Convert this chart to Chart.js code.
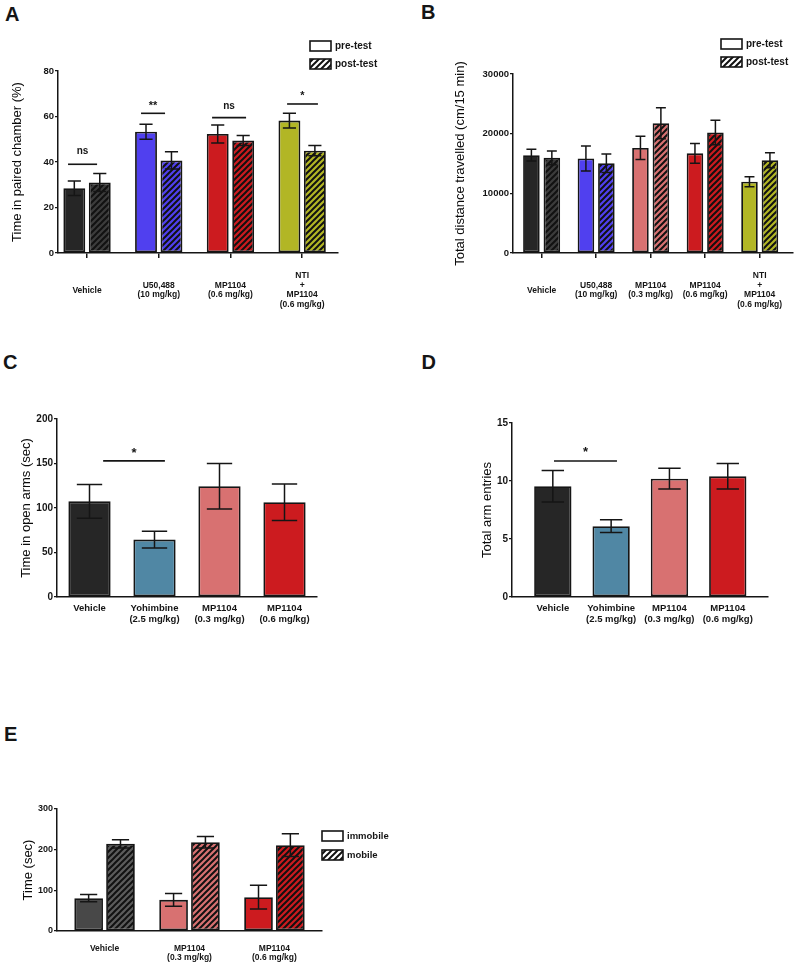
<!DOCTYPE html>
<html>
<head>
<meta charset="utf-8">
<script src="https://cdn.jsdelivr.net/npm/chart.js@4.4.1/dist/chart.umd.min.js"></script>
<style>
  body { margin: 0; background: #fff; width: 800px; height: 966px; position: relative; overflow: hidden;
         font-family: "Liberation Sans", Arial, sans-serif; color: #151515; }
  .panel { position: absolute; }
  .panel canvas { position: absolute; left: 0; top: 0; }
  .letter { position: absolute; font-weight: bold; font-size: 20px; line-height: 1; }
</style>
</head>
<body>
<div class="letter" style="left:5px;top:4px">A</div>
<div class="letter" style="left:421px;top:1.5px">B</div>
<div class="letter" style="left:3px;top:351.5px">C</div>
<div class="letter" style="left:421.5px;top:351.5px">D</div>
<div class="letter" style="left:4px;top:723.5px">E</div>

<div class="panel"><canvas id="chartA"></canvas></div>
<div class="panel"><canvas id="chartB"></canvas></div>
<div class="panel"><canvas id="chartC"></canvas></div>
<div class="panel"><canvas id="chartD"></canvas></div>
<div class="panel"><canvas id="chartE"></canvas></div>

<script>
// ---- data ----
// A: conditioned place preference
const groupsA = ['Vehicle', ['U50,488', '(10 mg/kg)'], ['MP1104', '(0.6 mg/kg)'], ['NTI', '+', 'MP1104', '(0.6 mg/kg)']];
const preA = [28.5, 53.3, 52.3, 58.2];
const preErrA = [3.2, 3.3, 4.0, 3.2];
const postA = [31.0, 40.7, 49.4, 45.0];
const postErrA = [4.0, 3.8, 2.2, 2.2];
const ticksA = [0, 20, 40, 60, 80];

// B: locomotion
const groupsB = ['Vehicle', ['U50,488', '(10 mg/kg)'], ['MP1104', '(0.3 mg/kg)'], ['MP1104', '(0.6 mg/kg)'], ['NTI', '+', 'MP1104', '(0.6 mg/kg)']];
const preB = [16400, 15850, 17600, 16700, 11950];
const preErrB = [1000, 2100, 1950, 1650, 850];
const postB = [15950, 15050, 21750, 20200, 15550];
const postErrB = [1150, 1550, 2600, 2050, 1250];
const ticksB = [0, 10000, 20000, 30000];

// C, D: elevated plus maze
const groupsCD = ['Vehicle', ['Yohimbine', '(2.5 mg/kg)'], ['MP1104', '(0.3 mg/kg)'], ['MP1104', '(0.6 mg/kg)']];
const openArmsC = [107.5, 64.5, 124.5, 106.5];
const openArmsErrC = [19, 9.5, 25.5, 20.5];
const ticksC = [0, 50, 100, 150, 200];
const entriesD = [9.55, 6.1, 10.2, 10.4];
const entriesErrD = [1.35, 0.55, 0.9, 1.1];
const ticksD = [0, 5, 10, 15];

// E: forced swim
const groupsE = ['Vehicle', ['MP1104', '(0.3 mg/kg)'], ['MP1104', '(0.6 mg/kg)']];
const immobileE = [80.8, 76.6, 83.2];
const immobileErrE = [9, 15.5, 29];
const mobileE = [214.3, 218.4, 211.0];
const mobileErrE = [10, 14, 28];
const ticksE = [0, 100, 200, 300];

// significance marks (x in group units, y in axis units)
const sigA = [
  { x1: -0.265, x2: 0.14, y: 39, ty: 44.5, text: 'ns', size: 10 },
  { x1: 0.753, x2: 1.088, y: 61.4, ty: 65.9, text: '**', size: 11 },
  { x1: 1.744, x2: 2.218, y: 59.5, ty: 64.2, text: 'ns', size: 10 },
  { x1: 2.79, x2: 3.22, y: 65.5, ty: 70.3, text: '*', size: 11 },
];
const sigC = [{ x1: 0.21, x2: 1.16, y: 152.9, ty: 165, text: '*', size: 13 }];
const sigD = [{ x1: 0.02, x2: 1.10, y: 11.72, ty: 12.67, text: '*', size: 13 }];

// ---- styles ----
const FAMILY = '"Liberation Sans", Arial, sans-serif';
const INK = '#151515';
const BLACK = '#262626', GREY = '#484848', BLUE = '#5040ef', RED = '#cc1b1f',
      PINK = '#d87171', OLIVE = '#b2b625', TEAL = '#5087a4';
const colorsA = [BLACK, BLUE, RED, OLIVE];
const colorsB = [BLACK, BLUE, PINK, RED, OLIVE];
const colorsCD = [BLACK, TEAL, PINK, RED];
const colorsE = [GREY, PINK, RED];

Chart.defaults.font.family = FAMILY;
Chart.defaults.color = INK;

const hatchBase = { [BLACK]: '#3c3c3c', [GREY]: '#5c5c5c' };

function hatch(fill, line = '#111') {
  const s = 6;
  const c = document.createElement('canvas');
  c.width = c.height = s;
  const g = c.getContext('2d');
  g.fillStyle = hatchBase[fill] || fill;
  g.fillRect(0, 0, s, s);
  g.strokeStyle = line;
  g.lineWidth = 2;
  g.beginPath();
  g.moveTo(0, s); g.lineTo(s, 0);
  g.moveTo(-s / 2, s / 2); g.lineTo(s / 2, -s / 2);
  g.moveTo(s / 2, s * 1.5); g.lineTo(s * 1.5, s / 2);
  g.stroke();
  return g.createPattern(c, 'repeat');
}

const xy = (vals) => vals.map((v, i) => ({ x: i, y: v }));

const errorBars = {
  id: 'errorBars',
  afterDatasetsDraw(chart) {
    const { ctx } = chart;
    const ys = chart.scales.y;
    ctx.save();
    ctx.strokeStyle = INK;
    ctx.lineWidth = 1.5;
    chart.data.datasets.forEach((ds, di) => {
      chart.getDatasetMeta(di).data.forEach((bar, i) => {
        const v = ds.data[i].y, e = ds.err[i];
        const t = ys.getPixelForValue(v + e), b = ys.getPixelForValue(v - e);
        const w = bar.width * 0.3;
        ctx.beginPath();
        ctx.moveTo(bar.x, t); ctx.lineTo(bar.x, b);
        ctx.moveTo(bar.x - w, t); ctx.lineTo(bar.x + w, t);
        ctx.moveTo(bar.x - w, b); ctx.lineTo(bar.x + w, b);
        ctx.stroke();
      });
    });
    ctx.restore();
  }
};

const sigMarks = {
  id: 'sigMarks',
  afterDatasetsDraw(chart, args, opts) {
    if (!opts.items) return;
    const { ctx } = chart;
    const xs = chart.scales.x, ys = chart.scales.y;
    ctx.save();
    opts.items.forEach(m => {
      const y = ys.getPixelForValue(m.y);
      ctx.strokeStyle = INK;
      ctx.lineWidth = 1.6;
      ctx.beginPath();
      ctx.moveTo(xs.getPixelForValue(m.x1), y);
      ctx.lineTo(xs.getPixelForValue(m.x2), y);
      ctx.stroke();
      ctx.font = `bold ${m.size}px ${FAMILY}`;
      ctx.textAlign = 'center';
      ctx.textBaseline = 'middle';
      ctx.fillStyle = INK;
      const k = m.text.includes('*') ? 0.22 : -0.09;
      ctx.fillText(m.text, xs.getPixelForValue((m.x1 + m.x2) / 2), ys.getPixelForValue(m.ty) + k * m.size);
    });
    ctx.restore();
  }
};

const boxLegend = {
  id: 'boxLegend',
  afterDraw(chart, args, opts) {
    if (opts.x === undefined) return;
    const { ctx } = chart;
    ctx.save();
    chart.data.datasets.forEach((ds, i) => {
      const y = opts.y + i * opts.gap;
      ctx.fillStyle = ds.legendFill;
      ctx.fillRect(opts.x, y, 21, 10);
      ctx.strokeStyle = INK;
      ctx.lineWidth = 1.6;
      ctx.strokeRect(opts.x, y, 21, 10);
      ctx.font = `bold ${opts.size}px ${FAMILY}`;
      ctx.textAlign = 'left';
      ctx.textBaseline = 'middle';
      ctx.fillStyle = INK;
      ctx.fillText(ds.label, opts.x + 25, y + 5.5);
    });
    ctx.restore();
  }
};

function drawPanel(id, box, area, spec) {
  const cv = document.getElementById(id);
  cv.width = box.w;
  cv.height = box.h;
  cv.parentElement.style.cssText = `left:${box.left}px;top:${box.top}px;width:${box.w}px;height:${box.h}px`;
  const yw = area.l - box.left;
  const xh = box.top + box.h - area.b;
  const groups = spec.groups;
  return new Chart(cv, {
    type: 'bar',
    data: { datasets: spec.datasets },
    options: {
      responsive: false,
      animation: false,
      layout: { padding: { left: 0, bottom: 0, top: area.t - box.top, right: box.left + box.w - area.r } },
      plugins: {
        legend: { display: false },
        tooltip: { enabled: false },
        sigMarks: { items: spec.sig || null },
        boxLegend: spec.legend || {}
      },
      scales: {
        x: {
          type: 'linear',
          min: spec.xMin,
          max: spec.xMax,
          offset: false,
          afterBuildTicks: s => { s.ticks = groups.map((g, i) => ({ value: i })); },
          afterFit: s => { s.height = xh; },
          ticks: {
            autoSkip: false, maxRotation: 0, minRotation: 0,
            callback: v => groups[v],
            font: { size: spec.xFont, weight: 'bold', lineHeight: spec.xLine },
            color: INK,
            padding: spec.xPad,
            crossAlign: spec.xAlign
          },
          grid: { offset: false, drawOnChartArea: false, drawTicks: spec.xTicks, tickLength: 5, color: INK, lineWidth: 1.5 },
          border: { color: INK, width: 1.5 }
        },
        y: {
          min: spec.yTicks[0],
          max: spec.yTicks[spec.yTicks.length - 1],
          afterBuildTicks: s => { s.ticks = spec.yTicks.map(v => ({ value: v })); },
          afterFit: s => { s.width = yw; },
          ticks: {
            callback: v => String(v),
            font: { size: spec.yFont, weight: 'bold' },
            color: INK,
            padding: 1
          },
          grid: { drawOnChartArea: false, tickLength: 3, color: INK, lineWidth: 1.2 },
          border: { color: INK, width: 1.5 },
          title: {
            display: true,
            text: spec.yTitle,
            font: { size: 13 },
            color: '#0a0a0a',
            padding: { top: spec.titlePad, bottom: 0 }
          }
        }
      }
    },
    plugins: [errorBars, sigMarks, boxLegend]
  });
}

const barStyle = (catPct, barPct) => ({
  borderColor: INK, borderWidth: 1.8, borderSkipped: false,
  categoryPercentage: catPct, barPercentage: barPct
});

drawPanel('chartA', { left: 0, top: 0, w: 400, h: 330 }, { l: 58, t: 71, r: 338, b: 253 }, {
  groups: groupsA, xMin: -0.405, xMax: 3.5, xFont: 8.5, xLine: 1.15, xPad: 17.5, xAlign: 'center', xTicks: true,
  yTicks: ticksA, yFont: 9.5, yTitle: 'Time in paired chamber (%)', titlePad: 9.5,
  sig: sigA, legend: { x: 310, y: 41, gap: 18, size: 10 },
  datasets: [
    { label: 'pre-test', data: xy(preA), err: preErrA, backgroundColor: colorsA, legendFill: '#fff', ...barStyle(0.71, 0.86) },
    { label: 'post-test', data: xy(postA), err: postErrA, backgroundColor: colorsA.map(c => hatch(c)), legendFill: hatch('#fff'), ...barStyle(0.71, 0.86) }
  ]
});

drawPanel('chartB', { left: 400, top: 0, w: 400, h: 330 }, { l: 513, t: 74, r: 797, b: 253 }, {
  groups: groupsB, xMin: -0.525, xMax: 4.615, xFont: 8.5, xLine: 1.15, xPad: 17.5, xAlign: 'center', xTicks: true,
  yTicks: ticksB, yFont: 9.5, yTitle: 'Total distance travelled (cm/15 min)', titlePad: 53,
  legend: { x: 321, y: 39, gap: 18, size: 10 },
  datasets: [
    { label: 'pre-test', data: xy(preB), err: preErrB, backgroundColor: colorsB, legendFill: '#fff', ...barStyle(0.75, 0.81) },
    { label: 'post-test', data: xy(postB), err: postErrB, backgroundColor: colorsB.map(c => hatch(c)), legendFill: hatch('#fff'), ...barStyle(0.75, 0.81) }
  ]
});

drawPanel('chartC', { left: 0, top: 340, w: 400, h: 330 }, { l: 57, t: 419, r: 317, b: 597 }, {
  groups: groupsCD, xMin: -0.5, xMax: 3.5, xFont: 9.5, xLine: 1.15, xPad: 6, xAlign: 'near', xTicks: false,
  yTicks: ticksC, yFont: 10, yTitle: 'Time in open arms (sec)', titlePad: 19,
  sig: sigC,
  datasets: [
    { label: 'open arms', data: xy(openArmsC), err: openArmsErrC, backgroundColor: colorsCD, ...barStyle(1, 0.65) }
  ]
});

drawPanel('chartD', { left: 400, top: 340, w: 400, h: 330 }, { l: 512, t: 423, r: 768, b: 597 }, {
  groups: groupsCD, xMin: -0.70, xMax: 3.69, xFont: 9.5, xLine: 1.15, xPad: 6, xAlign: 'near', xTicks: false,
  yTicks: ticksD, yFont: 10, yTitle: 'Total arm entries', titlePad: 80,
  sig: sigD,
  datasets: [
    { label: 'entries', data: xy(entriesD), err: entriesErrD, backgroundColor: colorsCD, ...barStyle(1, 0.64) }
  ]
});

drawPanel('chartE', { left: 0, top: 690, w: 420, h: 276 }, { l: 57, t: 809, r: 322, b: 931 }, {
  groups: groupsE, xMin: -0.56, xMax: 2.56, xFont: 8.5, xLine: 1.1, xPad: 12.6, xAlign: 'near', xTicks: false,
  yTicks: ticksE, yFont: 9, yTitle: 'Time (sec)', titlePad: 20.5,
  legend: { x: 322, y: 141, gap: 19, size: 9.5 },
  datasets: [
    { label: 'immobile', data: xy(immobileE), err: immobileErrE, backgroundColor: colorsE, legendFill: '#fff', ...barStyle(0.75, 0.9) },
    { label: 'mobile', data: xy(mobileE), err: mobileErrE, backgroundColor: colorsE.map(c => hatch(c)), legendFill: hatch('#fff'), ...barStyle(0.75, 0.9) }
  ]
});
</script>
</body>
</html>
